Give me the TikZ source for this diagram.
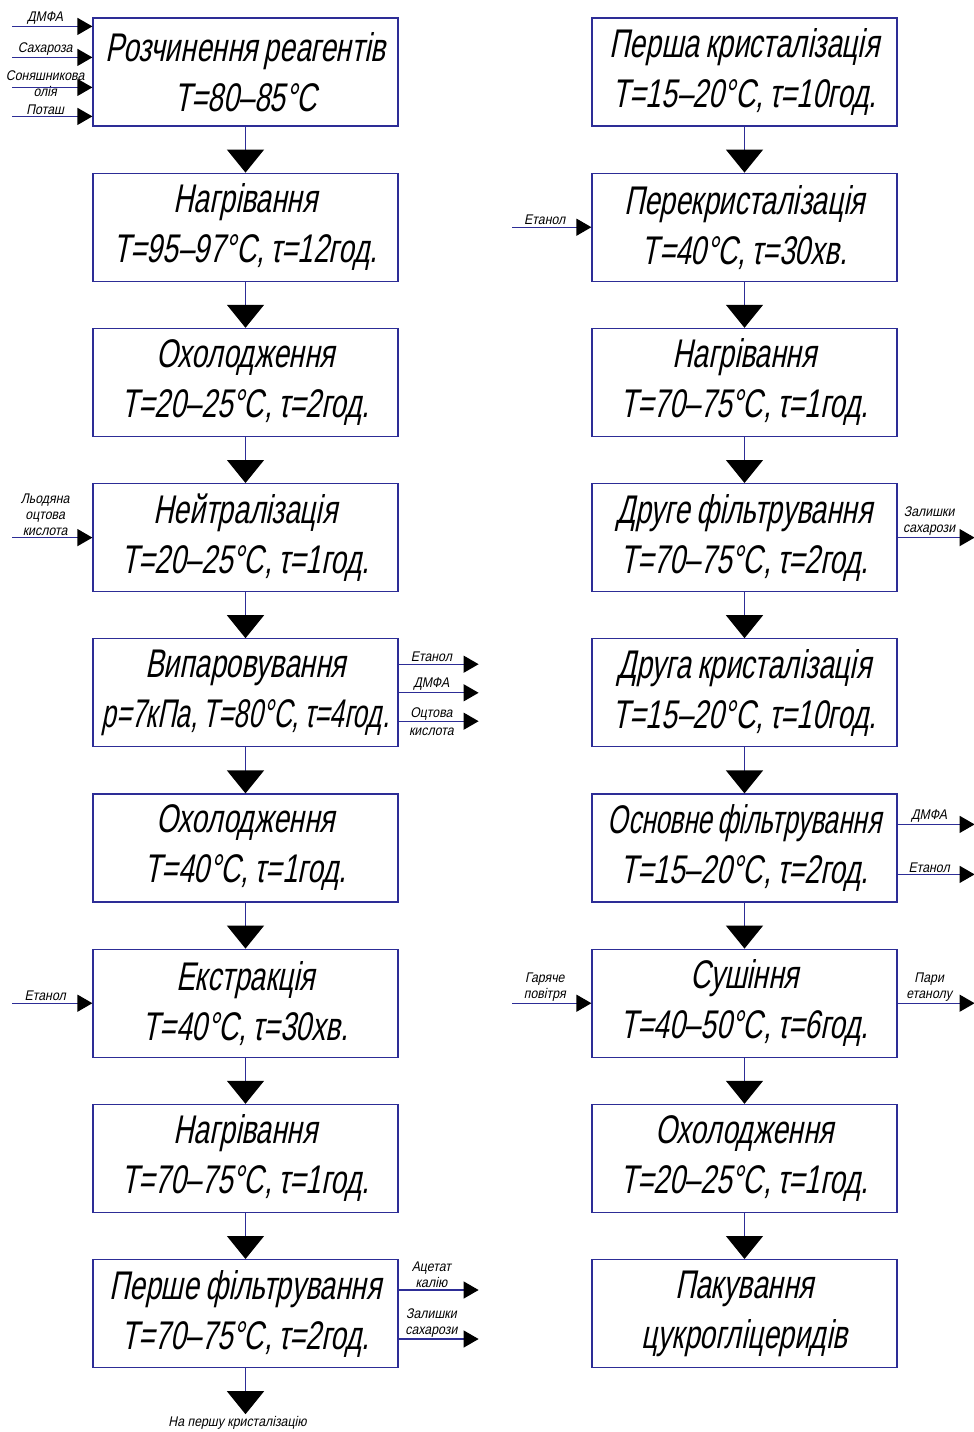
\documentclass[tikz,border=0pt]{standalone}
\usepackage{fontspec}
\setmainfont{Liberation Sans}[FakeSlant=0.2, FakeStretch=0.7, WordSpace=0.8]
\newfontfamily\lblfont{Liberation Sans}[FakeSlant=0.2, FakeStretch=0.88]
\newfontfamily\narrowfont{Liberation Sans}[FakeSlant=0.2, FakeStretch=0.65, WordSpace=0.7]
\usetikzlibrary{arrows.meta}
\definecolor{lineblue}{RGB}{45,45,150}

\begin{document}
\begin{tikzpicture}[x=1pt, y=1pt, node distance=155.2pt,
    stage/.style={draw=lineblue, line width=1.2pt, rectangle, minimum width=305pt, minimum height=108pt, inner sep=0pt, align=center, font=\fontsize{40}{50}\selectfont},
    flow/.style={draw=lineblue, line width=1.2pt, -{Triangle[width=37pt, length=23pt, color=black]}},
    side/.style={draw=lineblue, line width=1.2pt, -{Triangle[width=17pt, length=15pt, color=black]}},
    lbl/.style={font=\lblfont\fontsize{14}{16}\selectfont, align=center, inner sep=1.5pt}]
      \useasboundingbox (0,0) rectangle (974,-1432);

      \node[stage] (l1) at (245.5,-72) {Розчинення реагентів\\T=80--85°C};
      \node[stage, below of = l1] (l2) {Нагрівання\\T=95--97°C, τ=12год.};
      \node[stage, below of = l2] (l3) {Охолодження\\T=20--25°C, τ=2год.};
      \node[stage, below of = l3] (l4) {Нейтралізація\\T=20--25°C, τ=1год.};
      \node[stage, below of = l4] (l5) {Випаровування\\{\narrowfont p=7кПа, T=80°C, τ=4год.}};
      \node[stage, below of = l5] (l6) {Охолодження\\T=40°C, τ=1год.};
      \node[stage, below of = l6] (l7) {Екстракція\\T=40°C, τ=30хв.};
      \node[stage, below of = l7] (l8) {Нагрівання\\T=70--75°C, τ=1год.};
      \node[stage, below of = l8] (l9) {Перше фільтрування\\T=70--75°C, τ=2год.};

      \node[stage, right of = l1, node distance=499pt] (r1) {Перша кристалізація\\T=15--20°C, τ=10год.};
      \node[stage, below of = r1] (r2) {Перекристалізація\\T=40°C, τ=30хв.};
      \node[stage, below of = r2] (r3) {Нагрівання\\T=70--75°C, τ=1год.};
      \node[stage, below of = r3] (r4) {Друге фільтрування\\T=70--75°C, τ=2год.};
      \node[stage, below of = r4] (r5) {Друга кристалізація\\T=15--20°C, τ=10год.};
      \node[stage, below of = r5] (r6) {{\narrowfont Основне фільтрування}\\T=15--20°C, τ=2год.};
      \node[stage, below of = r6] (r7) {Сушіння\\T=40--50°C, τ=6год.};
      \node[stage, below of = r7] (r8) {Охолодження\\T=20--25°C, τ=1год.};
      \node[stage, below of = r8] (r9) {Пакування\\цукрогліцеридів};

      \draw[flow] (l1) -- (l2);
      \draw[flow] (l2) -- (l3);
      \draw[flow] (l3) -- (l4);
      \draw[flow] (l4) -- (l5);
      \draw[flow] (l5) -- (l6);
      \draw[flow] (l6) -- (l7);
      \draw[flow] (l7) -- (l8);
      \draw[flow] (l8) -- (l9);
      \coordinate (tocryst) at ([yshift=-46pt]l9.south);
      \draw[flow] (l9) -- (tocryst);
      \node[lbl, below, xshift=-8pt] (tocrysttext) at (tocryst) {На першу кристалізацію};

      \draw[flow] (r1) -- (r2);
      \draw[flow] (r2) -- (r3);
      \draw[flow] (r3) -- (r4);
      \draw[flow] (r4) -- (r5);
      \draw[flow] (r5) -- (r6);
      \draw[flow] (r6) -- (r7);
      \draw[flow] (r7) -- (r8);
      \draw[flow] (r8) -- (r9);

      \coordinate (dmfa) at ([shift={(-80pt,-9pt)}]l1.north west);
      \coordinate (sugar) at ([shift={(-80pt,-40pt)}]l1.north west);
      \coordinate (oil) at ([shift={(-80pt,-70pt)}]l1.north west);
      \coordinate (potash) at ([shift={(-80pt,-99pt)}]l1.north west);
      \draw[side] (dmfa) -- (dmfa -| l1.west) node[lbl, above, pos=0.41] {ДМФА};
      \draw[side] (sugar) -- (sugar -| l1.west) node[lbl, above, pos=0.41] {Сахароза};
      \draw[side] (oil) -- (oil -| l1.west) node[lbl, pos=0.41, yshift=4pt, inner sep=0pt] {Соняшникова\\олія};
      \draw[side] (potash) -- (potash -| l1.west) node[lbl, above, pos=0.41] {Поташ};

      \coordinate (acid) at ([xshift=-80pt]l4.west);
      \draw[side] (acid) -- (l4.west) node[lbl, above, pos=0.41] {Льодяна\\оцтова\\кислота};

      \coordinate (eth1) at ([shift={(80pt,-26pt)}]l5.north east);
      \coordinate (dmfa1) at ([xshift=80pt]l5.east);
      \coordinate (acid1) at ([shift={(80pt,-83pt)}]l5.north east);
      \draw[side] (eth1 -| l5.east) -- (eth1) node[lbl, above, pos=0.41] {Етанол};
      \draw[side] (l5.east) -- (dmfa1) node[lbl, above, pos=0.41] {ДМФА};
      \draw[side] (acid1 -| l5.east) -- (acid1) node[lbl, pos=0.41, inner sep=0pt] {Оцтова\\[2pt]кислота};

      \coordinate (eth2) at ([xshift=-80pt]l7.west);
      \draw[side] (eth2) -- (l7.west) node[lbl, above, pos=0.41] {Етанол};

      \coordinate (acetate) at ([shift={(80pt,-31pt)}]l9.north east);
      \coordinate (rest1) at ([shift={(80pt,-80pt)}]l9.north east);
      \draw[side] (acetate -| l9.east) -- (acetate) node[lbl, above, pos=0.41] {Ацетат\\калію};
      \draw[side] (rest1 -| l9.east) -- (rest1) node[lbl, above, pos=0.41] {Залишки\\сахарози};

      \coordinate (eth3) at ([xshift=-79pt]r2.west);
      \draw[side] (eth3) -- (r2.west) node[lbl, above, pos=0.41] {Етанол};

      \coordinate (rest2) at ([xshift=77pt]r4.east);
      \draw[side] (r4.east) -- (rest2) node[lbl, above, pos=0.41] {Залишки\\сахарози};

      \coordinate (dmfa2) at ([shift={(77pt,-31pt)}]r6.north east);
      \coordinate (eth4) at ([shift={(77pt,-81pt)}]r6.north east);
      \draw[side] (dmfa2 -| r6.east) -- (dmfa2) node[lbl, above, pos=0.41] {ДМФА};
      \draw[side] (eth4 -| r6.east) -- (eth4) node[lbl, above, pos=0.41] {Етанол};

      \coordinate (air) at ([xshift=-79pt]r7.west);
      \coordinate (vapour) at ([xshift=77pt]r7.east);
      \draw[side] (air) -- (r7.west) node[lbl, above, pos=0.41] {Гаряче\\повітря};
      \draw[side] (r7.east) -- (vapour) node[lbl, above, pos=0.41] {Пари\\етанолу};
    \end{tikzpicture}
\end{document}
